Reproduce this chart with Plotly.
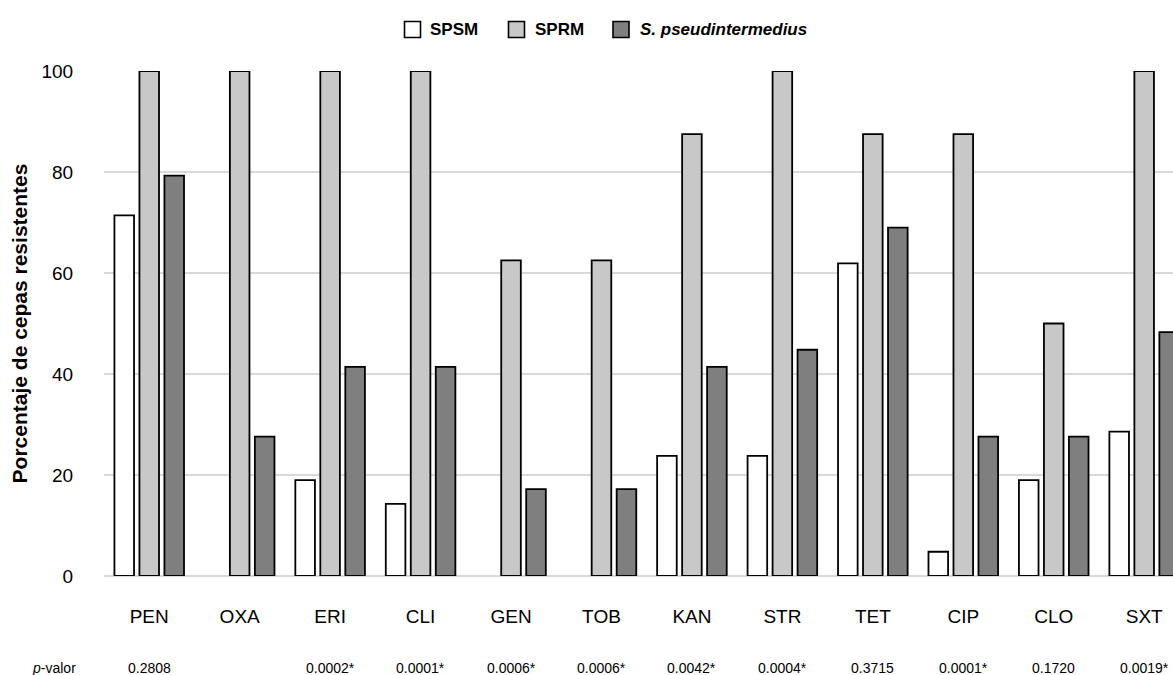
import plotly.graph_objects as go

categories = ["PEN", "OXA", "ERI", "CLI", "GEN", "TOB", "KAN", "STR", "TET", "CIP", "CLO", "SXT"]
spsm = [71.4, 0, 19.0, 14.3, 0, 0, 23.8, 23.8, 61.9, 4.8, 19.0, 28.6]
sprm = [100, 100, 100, 100, 62.5, 62.5, 87.5, 100, 87.5, 87.5, 50.0, 100]
spseud = [79.3, 27.6, 41.4, 41.4, 17.2, 17.2, 41.4, 44.8, 69.0, 27.6, 27.6, 48.3]
pvalues = ["0.2808", "", "0.0002*", "0.0001*", "0.0006*", "0.0006*", "0.0042*",
           "0.0004*", "0.3715", "0.0001*", "0.1720", "0.0019*"]
series_names = ["SPSM", "SPRM", "S. pseudintermedius"]
series_labels = ["<b>SPSM</b>", "<b>SPRM</b>", "<b><i>S. pseudintermedius</i></b>"]
series_colors = ["#ffffff", "#c8c8c8", "#7f7f7f"]
yticks = [0, 20, 40, 60, 80, 100]

FONT = "Arial, Liberation Sans, sans-serif"
W, H = 1173, 675
ML, MR, MT, MB = 104, 0, 71, 99
PW, PH = W - ML - MR, H - MT - MB
UNIT = 90.45  # px per category

def px_x(px):
    return (px - ML) / PW

def px_y(py):
    return (H - MB - py) / PH

fig = go.Figure()
for name, vals, col in zip(series_names, [spsm, sprm, spseud], series_colors):
    fig.add_trace(go.Bar(
        x=categories, y=[v if v else None for v in vals], name=name,
        marker=dict(color=col, line=dict(color="#000000", width=1.8)),
        cliponaxis=False, showlegend=False,
    ))

xmax = -0.5 + PW / UNIT
fig.update_layout(
    width=W, height=H,
    margin=dict(l=ML, r=MR, t=MT, b=MB, autoexpand=False),
    paper_bgcolor="white", plot_bgcolor="white",
    barmode="group", bargap=0.171, bargroupgap=0.216,
    font=dict(family=FONT, color="#000000"),
    xaxis=dict(
        type="category", range=[-0.5, xmax], showgrid=False, showline=False,
        ticks="outside", ticklen=23, tickcolor="rgba(0,0,0,0)",
        tickfont=dict(size=19, family=FONT, color="#000000"),
    ),
    yaxis=dict(
        range=[0, 100], tickvals=yticks, showline=False,
        showgrid=True, gridcolor="#d9d9d9", gridwidth=2,
        zeroline=True, zerolinecolor="#d9d9d9", zerolinewidth=2,
        ticks="outside", ticklen=26, tickcolor="rgba(0,0,0,0)",
        tickfont=dict(size=19, family=FONT, color="#000000"),
        title=dict(text="<b>Porcentaje de cepas resistentes</b>",
                   font=dict(size=21, family=FONT, color="#000000"), standoff=8),
    ),
)

# legend drawn manually at top
box_left = [404.5, 508.5, 613.0]
text_left = [428, 532.5, 638]
ly = 29.5
for bl, tl, col, lab in zip(box_left, text_left, series_colors, series_labels):
    fig.add_shape(type="rect", xref="paper", yref="paper",
                  x0=px_x(bl), x1=px_x(bl + 16), y0=px_y(ly + 8), y1=px_y(ly - 8),
                  fillcolor=col, line=dict(color="#000000", width=1.6))
    fig.add_annotation(xref="paper", yref="paper", x=px_x(tl), y=px_y(ly),
                       xanchor="left", yanchor="middle", showarrow=False,
                       text=lab, font=dict(size=17, family=FONT, color="#000000"))

# p-value row
py_p = px_y(667.5)
fig.add_annotation(xref="paper", yref="paper", x=px_x(54), y=py_p,
                   xanchor="center", yanchor="middle", showarrow=False,
                   text="<i>p</i>-valor", font=dict(size=14, family=FONT, color="#000000"))
for cat, pv in zip(categories, pvalues):
    if pv:
        fig.add_annotation(xref="x", yref="paper", x=cat, y=py_p,
                           xanchor="center", yanchor="middle", showarrow=False,
                           text=pv, font=dict(size=14, family=FONT, color="#000000"))

fig.write_html("out.html", config={"displayModeBar": False},
               post_script="document.body.style.margin='0';document.body.style.overflow='hidden';")
